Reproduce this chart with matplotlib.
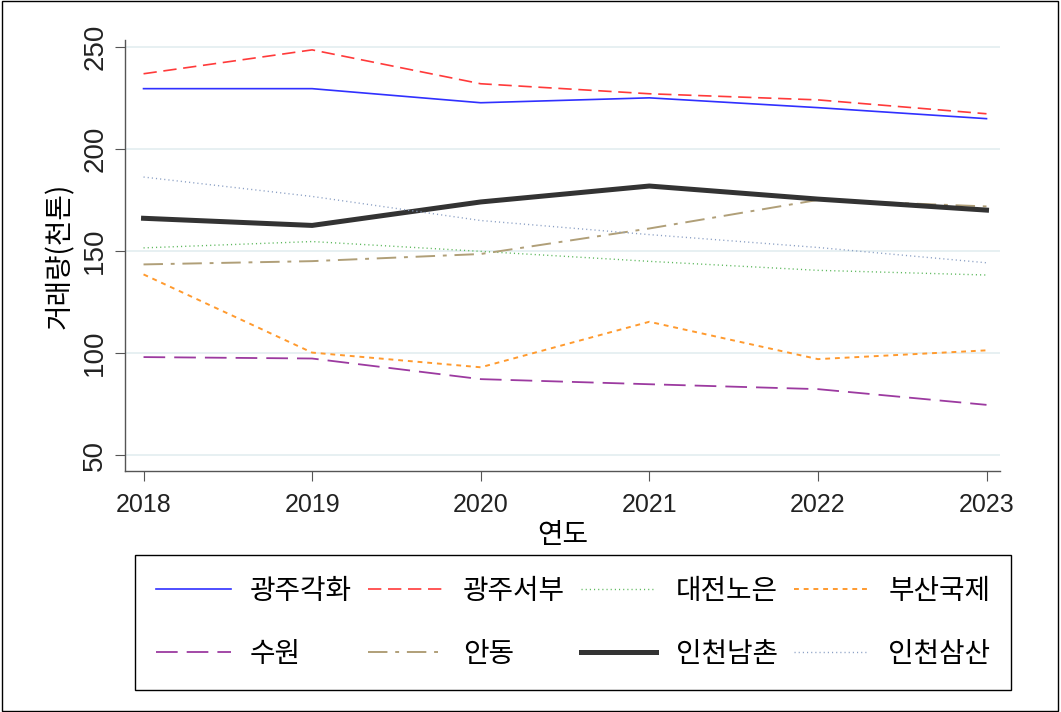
import numpy as np
import matplotlib.pyplot as plt

plt.rcParams['font.family'] = ['Noto Sans CJK KR', 'DejaVu Sans']

years = [2018, 2019, 2020, 2021, 2022, 2023]

gwangju_gakhwa = [229.5, 229.5, 222.6, 225.0, 220.2, 214.8]
gwangju_seobu = [236.8, 248.5, 231.9, 227.0, 224.0, 217.2]
daejeon_noeun = [151.5, 154.6, 149.8, 144.9, 140.5, 138.2]
busan_gukje = [138.5, 100.2, 93.0, 115.3, 97.0, 101.3]
suwon = [98.0, 97.3, 87.2, 84.7, 82.3, 74.6]
andong = [143.4, 145.0, 148.5, 161.0, 175.0, 171.8]
incheon_namchon = [166.0, 162.5, 174.0, 181.8, 175.4, 170.0]
incheon_samsan = [186.2, 176.7, 164.9, 158.0, 151.7, 144.2]

fig = plt.figure(figsize=(10.61, 7.12), dpi=100)
ax = fig.add_axes([0.1178, 0.3385, 0.8247, 0.6055])

ax.plot(years, gwangju_gakhwa, color='#3030ff', lw=1.2, label='광주각화')
ax.plot(years, gwangju_seobu, color='#ff3a3a', lw=1.2, dashes=(8, 4), label='광주서부')
ax.plot(years, daejeon_noeun, color='#5cb85c', lw=1.0, dashes=(0.8, 2.2), label='대전노은')
ax.plot(years, busan_gukje, color='#ff9a2e', lw=1.4, dashes=(2.5, 2.5), label='부산국제')
ax.plot(years, suwon, color='#9c3aa0', lw=1.3, dashes=(12, 5), label='수원')
ax.plot(years, andong, color='#b09f78', lw=1.4, dashes=(10, 4, 2, 4), label='안동')
ax.plot(years, incheon_namchon, color='#333333', lw=3.6, label='인천남촌')
ax.plot(years, incheon_samsan, color='#8a9fc4', lw=1.0, dashes=(0.8, 2.2), label='인천삼산')

ax.set_xlim(2017.89, 2023.08)
ax.set_ylim(42.2, 253.4)
ax.set_yticks([50, 100, 150, 200, 250])
ax.set_xticks(years)
ax.grid(axis='y', color='#e3eef0', lw=1.2)
ax.set_axisbelow(True)
for s in ['top', 'right']:
    ax.spines[s].set_visible(False)
for s in ['left', 'bottom']:
    ax.spines[s].set_color('#555555')
    ax.spines[s].set_linewidth(1.0)
ax.tick_params(axis='both', length=7, color='#555555', labelcolor='#222222', pad=5)
ax.tick_params(axis='x', pad=9)
for t in ax.get_xticklabels():
    t.set_family(['Liberation Sans', 'DejaVu Sans'])
    t.set_fontsize(18)
for t in ax.get_yticklabels():
    t.set_family(['Liberation Sans Narrow', 'Liberation Sans', 'DejaVu Sans'])
    t.set_fontsize(20)
    t.set_rotation(90)
    t.set_va('center')
ax.set_xlabel('연도', fontsize=20, labelpad=2)
ax.set_ylabel('거래량(천톤)', fontsize=20, labelpad=5)

handles, labels = ax.get_legend_handles_labels()
order = [0, 4, 1, 5, 2, 6, 3, 7]
leg = fig.legend([handles[i] for i in order], [labels[i] for i in order],
                 loc='lower left', bbox_to_anchor=(0.127, 0.031, 0.826, 0.185),
                 mode='expand', ncol=4, fontsize=20, handlelength=2.7,
                 handletextpad=0.7, borderpad=0.75, labelspacing=1.2,
                 borderaxespad=0, fancybox=False, edgecolor='black', framealpha=1)
leg.get_frame().set_linewidth(1.0)

fig.patches.append(plt.Rectangle((0.002, 0.002), 0.995, 0.996, transform=fig.transFigure,
                                 fill=False, edgecolor='black', lw=1.0))

fig.savefig('out.png', dpi=100)
